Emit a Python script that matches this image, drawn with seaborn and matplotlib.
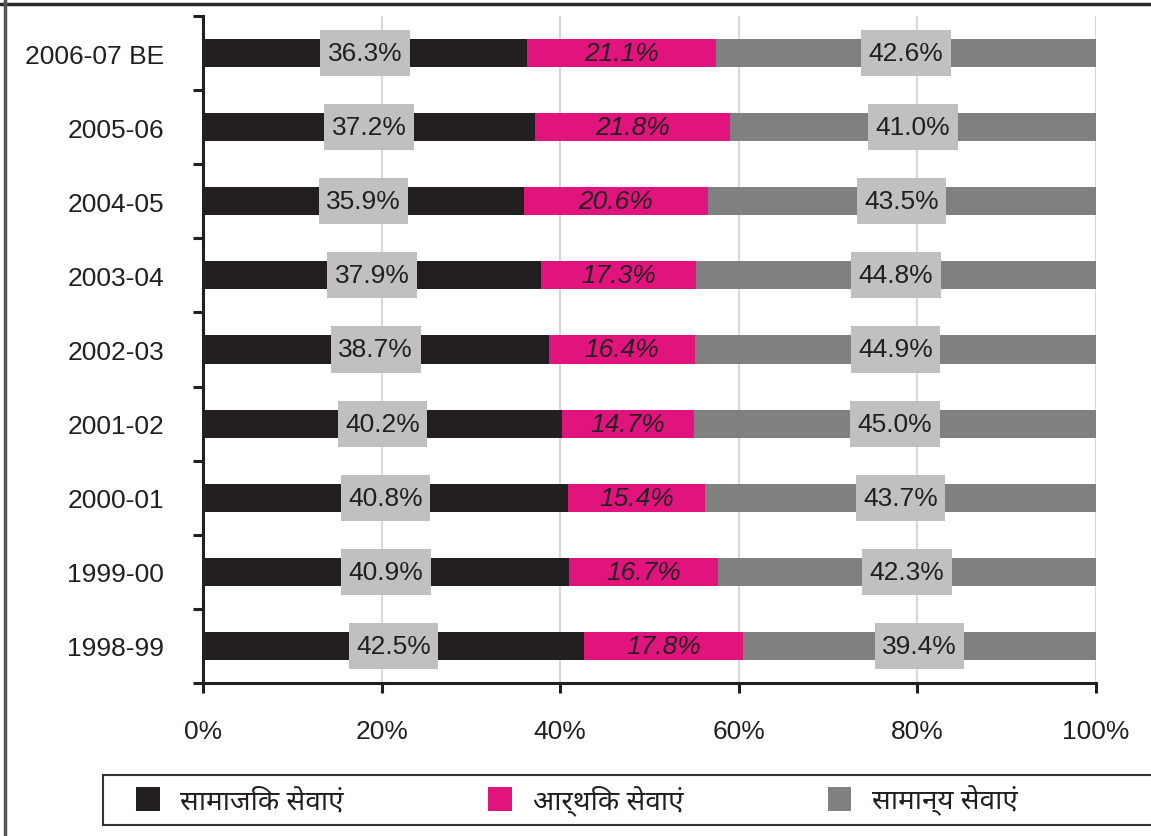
import numpy as np
import pandas as pd
import matplotlib
matplotlib.use("Agg")
import matplotlib.pyplot as plt
import seaborn as sns
from matplotlib.patches import Patch, Rectangle
from matplotlib.lines import Line2D
from matplotlib.path import Path

sns.set_theme(style="white")
plt.rcParams['font.family'] = ['Liberation Sans', 'Noto Sans', 'DejaVu Sans']

years = ["2006-07 BE", "2005-06", "2004-05", "2003-04", "2002-03",
         "2001-02", "2000-01", "1999-00", "1998-99"]
social = [36.3, 37.2, 35.9, 37.9, 38.7, 40.2, 40.8, 40.9, 42.5]
economic = [21.1, 21.8, 20.6, 17.3, 16.4, 14.7, 15.4, 16.7, 17.8]
general = [42.6, 41.0, 43.5, 44.8, 44.9, 45.0, 43.7, 42.3, 39.4]
legend_labels = ["सामाजिक सेवाएं", "आर्थिक सेवाएं", "सामान्य सेवाएं"]

c_black = "#231f20"
c_pink = "#e0147c"
c_gray = "#808080"
c_box = "#c0c0c0"

df = pd.DataFrame({"year": years, "social": social, "economic": economic, "general": general})
tot = df[["social", "economic", "general"]].sum(axis=1)
df["s"] = df["social"] / tot * 100
df["e"] = df["economic"] / tot * 100
df["g"] = df["general"] / tot * 100
df["se"] = df["s"] + df["e"]
df["all"] = df["se"] + df["g"]


def label_box(x0, y0, width, height, mutation_size):
    # wider vertical padding than horizontal, like the original label boxes
    px = 0.28 * mutation_size
    py = 0.42 * mutation_size
    x0, y0 = x0 - px, y0 - py
    x1, y1 = x0 + width + 2 * px, y0 + height + 2 * py
    return Path([(x0, y0), (x1, y0), (x1, y1), (x0, y1), (x0, y0)], closed=True)


fig = plt.figure(figsize=(11.51, 8.37), dpi=100)
ax = fig.add_axes([0.1764, 0.1828, 0.9522 - 0.1764, 0.9797 - 0.1828])

w = 0.38
sns.barplot(data=df, x="all", y="year", color=c_gray, width=w, saturation=1, ax=ax, zorder=2)
sns.barplot(data=df, x="se", y="year", color=c_pink, width=w, saturation=1, ax=ax, zorder=2)
sns.barplot(data=df, x="s", y="year", color=c_black, width=w, saturation=1, ax=ax, zorder=2)
for p in ax.patches:
    p.set_linewidth(0)

fs = 19
for i, row in df.iterrows():
    ax.text(row["s"] / 2, i, f"{row['social']:.1f}%", ha="center", va="center",
            fontsize=fs, color=c_black, zorder=5,
            bbox=dict(boxstyle=label_box, fc=c_box, ec="none"))
    ax.text(row["s"] + row["e"] / 2, i, f"{row['economic']:.1f}%", ha="center", va="center",
            fontsize=fs, color=c_black, style="italic", zorder=5)
    ax.text(row["se"] + row["g"] / 2, i, f"{row['general']:.1f}%", ha="center", va="center",
            fontsize=fs, color=c_black, zorder=5,
            bbox=dict(boxstyle=label_box, fc=c_box, ec="none"))

ax.set_xlim(0, 100)
ax.set_ylim(len(years) - 0.5, -0.5)
ax.set_xticks([0, 20, 40, 60, 80, 100])
ax.set_xticklabels(["0%", "20%", "40%", "60%", "80%", "100%"])
ax.set_yticks(range(len(years)))
ax.set_yticklabels(years)
ax.set_yticks(np.arange(-0.5, len(years), 1), minor=True)
ax.set_xlabel("")
ax.set_ylabel("")

ax.tick_params(axis="x", which="major", direction="out", length=7, width=2.2,
               color=c_black, labelsize=fs, pad=19, labelcolor=c_black, bottom=True)
ax.tick_params(axis="y", which="major", length=0, labelsize=fs, pad=28, labelcolor=c_black)
ax.tick_params(axis="y", which="minor", direction="out", length=7, width=2.2,
               color=c_black, left=True)

ax.grid(axis="x", color="#d9d9d9", linewidth=1.5, zorder=0)
ax.grid(axis="y", visible=False)
ax.set_axisbelow(True)
for s in ["top", "right"]:
    ax.spines[s].set_visible(False)
for s in ["left", "bottom"]:
    ax.spines[s].set_color(c_black)
    ax.spines[s].set_linewidth(2.2)
    ax.spines[s].set_zorder(4)

# figure border (top and left)
fig.add_artist(Line2D([0, 1], [1 - 4.5 / 837] * 2, transform=fig.transFigure, color="#2a2a2a", lw=2.5))
fig.add_artist(Line2D([4.5 / 1151] * 2, [0, 1], transform=fig.transFigure, color="#555555", lw=2.5))

# legend box
fig.add_artist(Rectangle((103 / 1151, 1 - 826 / 837), 1.0, 50 / 837, transform=fig.transFigure,
                         fc="white", ec="#333333", lw=1.5))
handles = [Patch(fc=c, ec="none") for c in [c_black, c_pink, c_gray]]
leg = fig.legend(handles, legend_labels, ncol=3, loc="center left",
                 bbox_to_anchor=(136 / 1151, 1 - 801 / 837),
                 frameon=False, handlelength=0.85, handleheight=0.95, handletextpad=0.75,
                 columnspacing=5.2, borderaxespad=0, borderpad=0, labelcolor=c_black,
                 prop={"family": ["Noto Sans", "DejaVu Sans"], "size": 20})

fig.savefig("out.png", dpi=100)
